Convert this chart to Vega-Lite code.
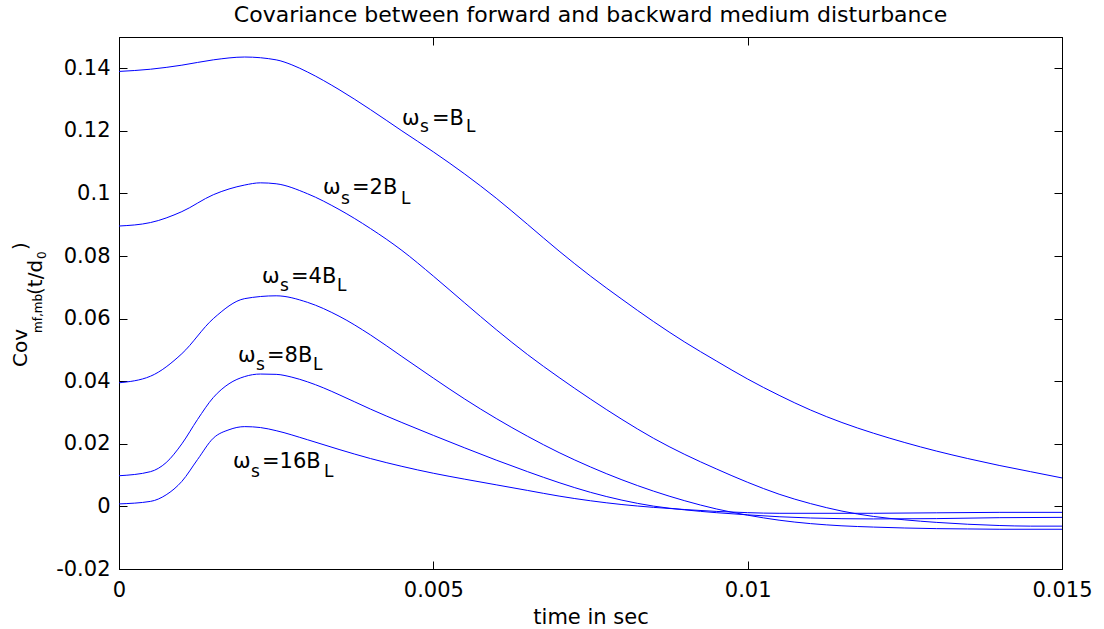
{
  "$schema": "https://vega.github.io/schema/vega-lite/v6.json",
  "width": 943,
  "height": 532,
  "autosize": {"type": "none"},
  "padding": {"left": 119, "top": 37, "right": 42, "bottom": 60},
  "background": "white",
  "config": {"view": {"stroke": "black", "strokeWidth": 1}, "font": "DejaVu Sans"},
  "title": {"text": "Covariance between forward and backward medium disturbance", "font": "DejaVu Sans", "fontSize": 22, "fontWeight": "normal", "color": "black", "anchor": "middle", "baseline": "alphabetic", "offset": 14, "dy": 21},
  "datasets": {
    "curves": [
      {"s": "B", "t": 0, "v": 0.139}, {"s": "B", "t": 0.0005, "v": 0.1397}, {"s": "B", "t": 0.001, "v": 0.141}, {"s": "B", "t": 0.0015, "v": 0.1427}, {"s": "B", "t": 0.002, "v": 0.1436}, {"s": "B", "t": 0.0025, "v": 0.1427}, {"s": "B", "t": 0.00275, "v": 0.1411}, {"s": "B", "t": 0.003, "v": 0.1388}, {"s": "B", "t": 0.0035, "v": 0.1332}, {"s": "B", "t": 0.004, "v": 0.1268}, {"s": "B", "t": 0.0045, "v": 0.12}, {"s": "B", "t": 0.005, "v": 0.1133}, {"s": "B", "t": 0.0055, "v": 0.1062}, {"s": "B", "t": 0.006, "v": 0.0985}, {"s": "B", "t": 0.0065, "v": 0.0901}, {"s": "B", "t": 0.007, "v": 0.0816}, {"s": "B", "t": 0.0075, "v": 0.0736}, {"s": "B", "t": 0.008, "v": 0.0662}, {"s": "B", "t": 0.0085, "v": 0.0591}, {"s": "B", "t": 0.009, "v": 0.0525}, {"s": "B", "t": 0.0095, "v": 0.0465}, {"s": "B", "t": 0.01, "v": 0.0407}, {"s": "B", "t": 0.0105, "v": 0.0355}, {"s": "B", "t": 0.011, "v": 0.0308}, {"s": "B", "t": 0.0115, "v": 0.0268}, {"s": "B", "t": 0.012, "v": 0.0234}, {"s": "B", "t": 0.0125, "v": 0.0204}, {"s": "B", "t": 0.013, "v": 0.0177}, {"s": "B", "t": 0.0135, "v": 0.0153}, {"s": "B", "t": 0.014, "v": 0.0131}, {"s": "B", "t": 0.0145, "v": 0.0111}, {"s": "B", "t": 0.015, "v": 0.0091},
      {"s": "2B", "t": 0, "v": 0.0896}, {"s": "2B", "t": 0.0005, "v": 0.0907}, {"s": "2B", "t": 0.001, "v": 0.0942}, {"s": "2B", "t": 0.0015, "v": 0.0996}, {"s": "2B", "t": 0.002, "v": 0.1027}, {"s": "2B", "t": 0.00225, "v": 0.1034}, {"s": "2B", "t": 0.0025, "v": 0.1031}, {"s": "2B", "t": 0.003, "v": 0.0999}, {"s": "2B", "t": 0.0035, "v": 0.0949}, {"s": "2B", "t": 0.004, "v": 0.0888}, {"s": "2B", "t": 0.0045, "v": 0.0818}, {"s": "2B", "t": 0.005, "v": 0.0736}, {"s": "2B", "t": 0.0055, "v": 0.065}, {"s": "2B", "t": 0.006, "v": 0.0565}, {"s": "2B", "t": 0.0065, "v": 0.0485}, {"s": "2B", "t": 0.007, "v": 0.0412}, {"s": "2B", "t": 0.0075, "v": 0.0343}, {"s": "2B", "t": 0.008, "v": 0.0278}, {"s": "2B", "t": 0.0085, "v": 0.0218}, {"s": "2B", "t": 0.009, "v": 0.0166}, {"s": "2B", "t": 0.0095, "v": 0.012}, {"s": "2B", "t": 0.01, "v": 0.0077}, {"s": "2B", "t": 0.0105, "v": 0.0039}, {"s": "2B", "t": 0.011, "v": 0.0009}, {"s": "2B", "t": 0.0115, "v": -0.0015}, {"s": "2B", "t": 0.012, "v": -0.0032}, {"s": "2B", "t": 0.0125, "v": -0.0043}, {"s": "2B", "t": 0.013, "v": -0.0051}, {"s": "2B", "t": 0.0135, "v": -0.0057}, {"s": "2B", "t": 0.014, "v": -0.0061}, {"s": "2B", "t": 0.0145, "v": -0.0063}, {"s": "2B", "t": 0.015, "v": -0.0063},
      {"s": "4B", "t": 0, "v": 0.0395}, {"s": "4B", "t": 0.0005, "v": 0.0416}, {"s": "4B", "t": 0.001, "v": 0.0488}, {"s": "4B", "t": 0.0015, "v": 0.06}, {"s": "4B", "t": 0.002, "v": 0.0664}, {"s": "4B", "t": 0.0025, "v": 0.0673}, {"s": "4B", "t": 0.003, "v": 0.0652}, {"s": "4B", "t": 0.0035, "v": 0.0608}, {"s": "4B", "t": 0.004, "v": 0.0548}, {"s": "4B", "t": 0.0045, "v": 0.0479}, {"s": "4B", "t": 0.005, "v": 0.041}, {"s": "4B", "t": 0.0055, "v": 0.0343}, {"s": "4B", "t": 0.006, "v": 0.0281}, {"s": "4B", "t": 0.0065, "v": 0.0224}, {"s": "4B", "t": 0.007, "v": 0.0172}, {"s": "4B", "t": 0.0075, "v": 0.0126}, {"s": "4B", "t": 0.008, "v": 0.0085}, {"s": "4B", "t": 0.0085, "v": 0.0049}, {"s": "4B", "t": 0.009, "v": 0.0018}, {"s": "4B", "t": 0.0095, "v": -0.0008}, {"s": "4B", "t": 0.01, "v": -0.0028}, {"s": "4B", "t": 0.0105, "v": -0.0044}, {"s": "4B", "t": 0.011, "v": -0.0055}, {"s": "4B", "t": 0.0115, "v": -0.0062}, {"s": "4B", "t": 0.012, "v": -0.0066}, {"s": "4B", "t": 0.0125, "v": -0.0069}, {"s": "4B", "t": 0.013, "v": -0.0071}, {"s": "4B", "t": 0.0135, "v": -0.0072}, {"s": "4B", "t": 0.014, "v": -0.0073}, {"s": "4B", "t": 0.015, "v": -0.0073},
      {"s": "8B", "t": 0, "v": 0.0098}, {"s": "8B", "t": 0.0005, "v": 0.0111}, {"s": "8B", "t": 0.00075, "v": 0.014}, {"s": "8B", "t": 0.001, "v": 0.02}, {"s": "8B", "t": 0.00125, "v": 0.0278}, {"s": "8B", "t": 0.0015, "v": 0.0348}, {"s": "8B", "t": 0.00175, "v": 0.0392}, {"s": "8B", "t": 0.002, "v": 0.0415}, {"s": "8B", "t": 0.00225, "v": 0.0423}, {"s": "8B", "t": 0.0025, "v": 0.0422}, {"s": "8B", "t": 0.00275, "v": 0.0413}, {"s": "8B", "t": 0.003, "v": 0.0398}, {"s": "8B", "t": 0.00325, "v": 0.0379}, {"s": "8B", "t": 0.0035, "v": 0.0357}, {"s": "8B", "t": 0.00375, "v": 0.0334}, {"s": "8B", "t": 0.004, "v": 0.0311}, {"s": "8B", "t": 0.0045, "v": 0.0268}, {"s": "8B", "t": 0.005, "v": 0.0227}, {"s": "8B", "t": 0.0055, "v": 0.0187}, {"s": "8B", "t": 0.006, "v": 0.0148}, {"s": "8B", "t": 0.0065, "v": 0.0111}, {"s": "8B", "t": 0.007, "v": 0.0076}, {"s": "8B", "t": 0.0075, "v": 0.0045}, {"s": "8B", "t": 0.008, "v": 0.002}, {"s": "8B", "t": 0.0085, "v": 0.0001}, {"s": "8B", "t": 0.009, "v": -0.0011}, {"s": "8B", "t": 0.0095, "v": -0.002}, {"s": "8B", "t": 0.01, "v": -0.0027}, {"s": "8B", "t": 0.0105, "v": -0.0033}, {"s": "8B", "t": 0.011, "v": -0.0037}, {"s": "8B", "t": 0.012, "v": -0.004}, {"s": "8B", "t": 0.013, "v": -0.0039}, {"s": "8B", "t": 0.014, "v": -0.0036}, {"s": "8B", "t": 0.015, "v": -0.0035},
      {"s": "16B", "t": 0, "v": 0.0008}, {"s": "16B", "t": 0.0005, "v": 0.0016}, {"s": "16B", "t": 0.00075, "v": 0.0037}, {"s": "16B", "t": 0.001, "v": 0.008}, {"s": "16B", "t": 0.00125, "v": 0.015}, {"s": "16B", "t": 0.0015, "v": 0.0218}, {"s": "16B", "t": 0.00175, "v": 0.0245}, {"s": "16B", "t": 0.002, "v": 0.0255}, {"s": "16B", "t": 0.00225, "v": 0.0252}, {"s": "16B", "t": 0.0025, "v": 0.0242}, {"s": "16B", "t": 0.003, "v": 0.0213}, {"s": "16B", "t": 0.0035, "v": 0.0182}, {"s": "16B", "t": 0.004, "v": 0.0153}, {"s": "16B", "t": 0.0045, "v": 0.0128}, {"s": "16B", "t": 0.005, "v": 0.0106}, {"s": "16B", "t": 0.0055, "v": 0.0087}, {"s": "16B", "t": 0.006, "v": 0.0069}, {"s": "16B", "t": 0.0065, "v": 0.0051}, {"s": "16B", "t": 0.007, "v": 0.0033}, {"s": "16B", "t": 0.0075, "v": 0.0018}, {"s": "16B", "t": 0.008, "v": 0.0006}, {"s": "16B", "t": 0.0085, "v": -0.0003}, {"s": "16B", "t": 0.009, "v": -0.001}, {"s": "16B", "t": 0.0095, "v": -0.0016}, {"s": "16B", "t": 0.01, "v": -0.002}, {"s": "16B", "t": 0.0105, "v": -0.0022}, {"s": "16B", "t": 0.012, "v": -0.0022}, {"s": "16B", "t": 0.014, "v": -0.0019}, {"s": "16B", "t": 0.015, "v": -0.0019}
    ],
    "labels": [
      {"k": "main", "txt": "ω", "t": 0.004502, "v": 0.12188}, {"k": "sub", "txt": "s", "t": 0.004788, "v": 0.11964}, {"k": "main", "txt": "=B", "t": 0.004979, "v": 0.12188}, {"k": "sub", "txt": "L", "t": 0.005519, "v": 0.11964},
      {"k": "main", "txt": "ω", "t": 0.003245, "v": 0.09983}, {"k": "sub", "txt": "s", "t": 0.003531, "v": 0.09663}, {"k": "main", "txt": "=2B", "t": 0.003706, "v": 0.09983}, {"k": "sub", "txt": "L", "t": 0.004486, "v": 0.09663},
      {"k": "main", "txt": "ω", "t": 0.002275, "v": 0.07139}, {"k": "sub", "txt": "s", "t": 0.002561, "v": 0.06883}, {"k": "main", "txt": "=4B", "t": 0.002736, "v": 0.07139}, {"k": "sub", "txt": "L", "t": 0.003468, "v": 0.06883},
      {"k": "main", "txt": "ω", "t": 0.001893, "v": 0.04615}, {"k": "sub", "txt": "s", "t": 0.002179, "v": 0.04359}, {"k": "main", "txt": "=8B", "t": 0.002354, "v": 0.04615}, {"k": "sub", "txt": "L", "t": 0.003086, "v": 0.04359},
      {"k": "main", "txt": "ω", "t": 0.001813, "v": 0.01227}, {"k": "sub", "txt": "s", "t": 0.002099, "v": 0.0094}, {"k": "main", "txt": "=16B", "t": 0.002275, "v": 0.01227}, {"k": "sub", "txt": "L", "t": 0.00326, "v": 0.0094},
      {"k": "ymain", "txt": "Cov", "t": -0.001463, "v": 0.04455}, {"k": "ysub", "txt": "mf,mb", "t": -0.001225, "v": 0.05541}, {"k": "ymain", "txt": "(t/d", "t": -0.001225, "v": 0.06756}, {"k": "ysub", "txt": "0", "t": -0.00116, "v": 0.07906}, {"k": "ymain", "txt": ")", "t": -0.001463, "v": 0.08194}
    ]
  },
  "layer": [
    {
      "data": {"name": "curves"},
      "mark": {"type": "line", "color": "#0000ff", "strokeWidth": 1, "interpolate": "monotone"},
      "encoding": {
        "x": {"field": "t", "type": "quantitative", "scale": {"domain": [0, 0.015], "nice": false, "zero": false},
          "axis": {"orient": "bottom", "values": [0, 0.005, 0.01, 0.015], "labelExpr": "'' + datum.value", "tickSize": -8, "tickColor": "black", "domainColor": "black", "labelFont": "DejaVu Sans", "labelFontSize": 21, "labelColor": "black", "labelPadding": 18, "labelFlush": false, "labelOverlap": false, "grid": false, "title": "time in sec", "titleFont": "DejaVu Sans", "titleFontSize": 21, "titleFontWeight": "normal", "titleColor": "black", "titlePadding": 6}},
        "y": {"field": "v", "type": "quantitative", "scale": {"domain": [-0.02, 0.15], "nice": false, "zero": false},
          "axis": {"orient": "left", "values": [-0.02, 0, 0.02, 0.04, 0.06, 0.08, 0.1, 0.12, 0.14], "labelExpr": "'' + datum.value", "tickSize": -8, "tickColor": "black", "domainColor": "black", "labelFont": "DejaVu Sans", "labelFontSize": 21, "labelColor": "black", "labelPadding": 17, "labelFlush": false, "labelOverlap": false, "grid": false, "title": null}},
        "detail": {"field": "s", "type": "nominal"}
      }
    },
    {
      "data": {"name": "labels"},
      "transform": [{"filter": "datum.k == 'main'"}],
      "mark": {"type": "text", "align": "left", "baseline": "alphabetic", "font": "DejaVu Sans", "fontSize": 21, "color": "black"},
      "encoding": {
        "x": {"field": "t", "type": "quantitative", "scale": {"domain": [0, 0.015], "nice": false, "zero": false},
          "axis": {"orient": "top", "values": [0, 0.005, 0.01, 0.015], "labels": false, "tickSize": -8, "tickColor": "black", "domainColor": "black", "grid": false, "title": null}},
        "y": {"field": "v", "type": "quantitative", "scale": {"domain": [-0.02, 0.15], "nice": false, "zero": false},
          "axis": {"orient": "right", "values": [-0.02, 0, 0.02, 0.04, 0.06, 0.08, 0.1, 0.12, 0.14], "labels": false, "tickSize": -8, "tickColor": "black", "domainColor": "black", "grid": false, "title": null}},
        "text": {"field": "txt"}
      }
    },
    {
      "data": {"name": "labels"},
      "transform": [{"filter": "datum.k == 'sub'"}],
      "mark": {"type": "text", "align": "left", "baseline": "alphabetic", "font": "DejaVu Sans", "fontSize": 17, "color": "black"},
      "encoding": {
        "x": {"field": "t", "type": "quantitative", "scale": {"domain": [0, 0.015], "nice": false, "zero": false}, "axis": null},
        "y": {"field": "v", "type": "quantitative", "scale": {"domain": [-0.02, 0.15], "nice": false, "zero": false}, "axis": null},
        "text": {"field": "txt"}
      }
    },
    {
      "data": {"name": "labels"},
      "transform": [{"filter": "datum.k == 'ymain'"}],
      "mark": {"type": "text", "align": "left", "baseline": "alphabetic", "angle": 270, "font": "DejaVu Sans", "fontSize": 20, "color": "black"},
      "encoding": {
        "x": {"field": "t", "type": "quantitative", "scale": {"domain": [0, 0.015], "nice": false, "zero": false}, "axis": null},
        "y": {"field": "v", "type": "quantitative", "scale": {"domain": [-0.02, 0.15], "nice": false, "zero": false}, "axis": null},
        "text": {"field": "txt"}
      }
    },
    {
      "data": {"name": "labels"},
      "transform": [{"filter": "datum.k == 'ysub'"}],
      "mark": {"type": "text", "align": "left", "baseline": "alphabetic", "angle": 270, "font": "DejaVu Sans", "fontSize": 12, "color": "black"},
      "encoding": {
        "x": {"field": "t", "type": "quantitative", "scale": {"domain": [0, 0.015], "nice": false, "zero": false}, "axis": null},
        "y": {"field": "v", "type": "quantitative", "scale": {"domain": [-0.02, 0.15], "nice": false, "zero": false}, "axis": null},
        "text": {"field": "txt"}
      }
    }
  ],
  "resolve": {"axis": {"x": "independent", "y": "independent"}}
}
